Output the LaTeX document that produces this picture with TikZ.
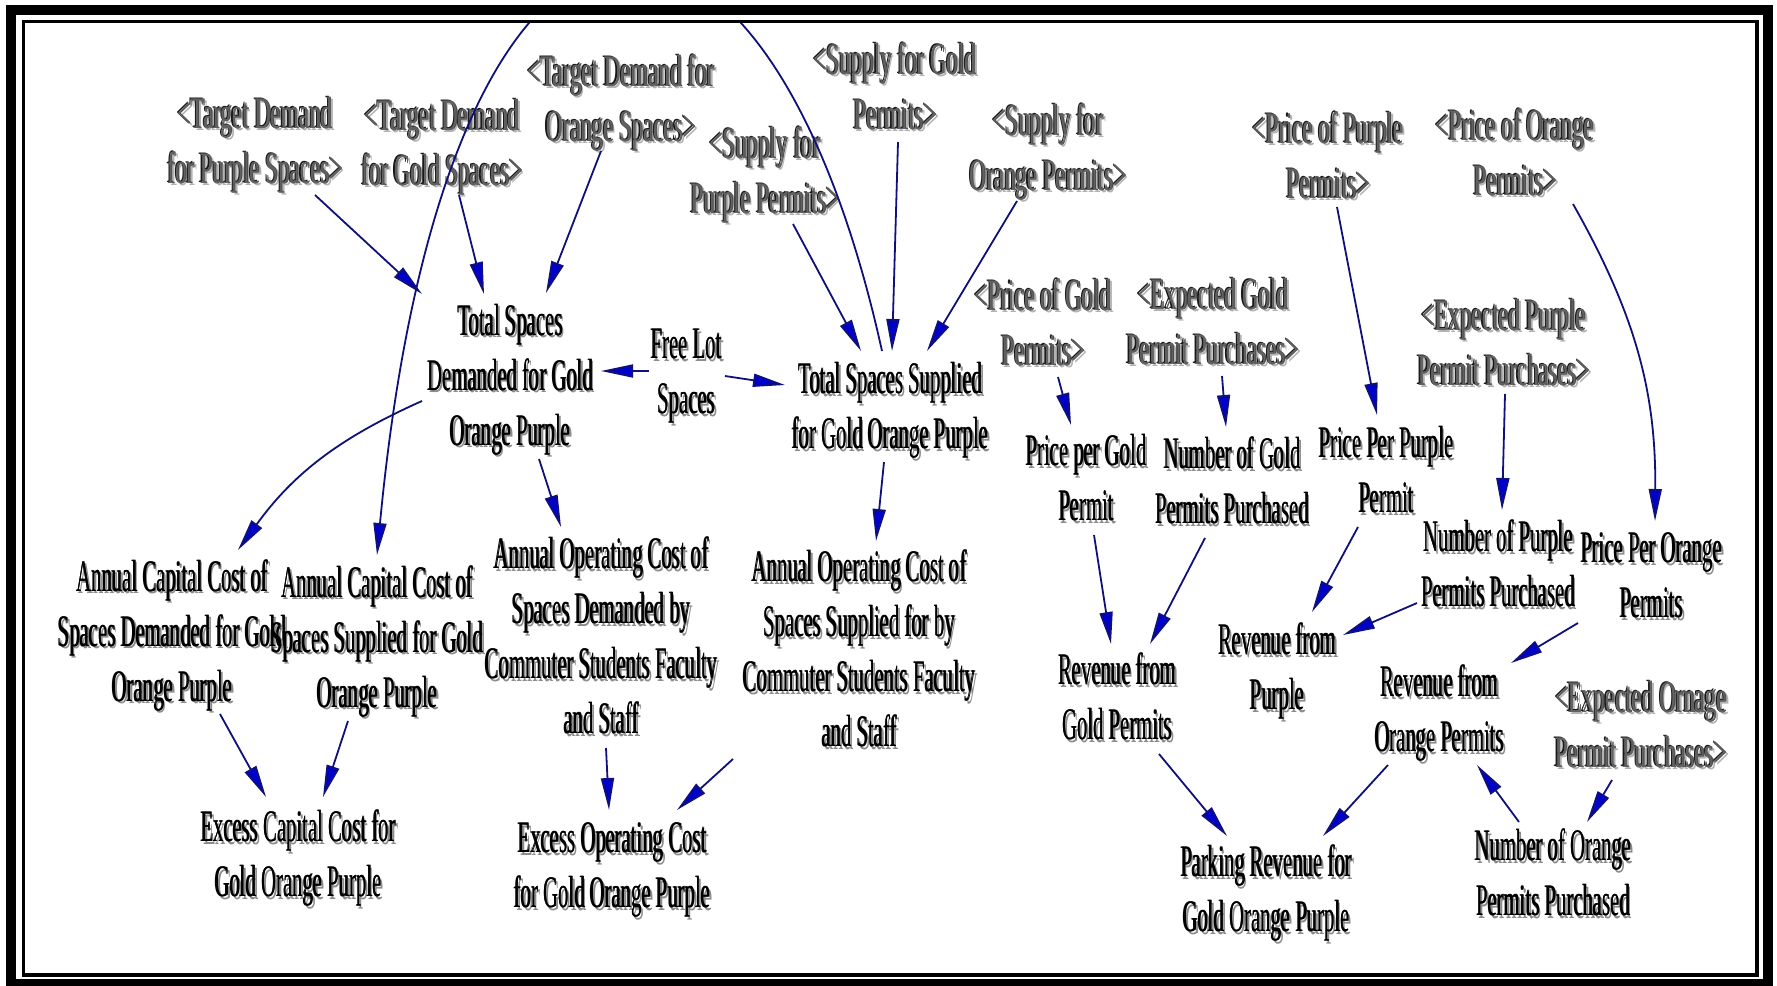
\documentclass[tikz,border=0pt]{standalone}
\usepackage{fontspec}
\setmainfont{Liberation Serif}[FakeStretch=0.46]
\newfontfamily\gfont{Liberation Serif}[FakeStretch=0.51]
\usetikzlibrary{arrows.meta}
\definecolor{navyline}{HTML}{10107A}
\definecolor{tipblue}{HTML}{0000CC}
\tikzset{
  vtxt/.style={inner sep=0pt, font=\fontsize{45}{55}\selectfont},
  arr/.style={draw=navyline, line width=1.8pt, -{Triangle[length=32pt,width=13pt,fill=tipblue]}},
  frameouter/.style={draw=black, line width=10pt},
  frameinner/.style={draw=black, line width=3.5pt},
}
% one text layer, shifted by (#1,#2) pt, in colour #3, taking no width
\newcommand\lay[4]{\makebox[0pt][l]{\hspace*{#1pt}\raisebox{#2pt}{\textcolor{#3}{\begin{tabular}{@{}c@{}}#4\end{tabular}}}}}
% black text with a grey shadow
\newcommand\blk[1]{\raisebox{-3.5pt}[\height][\depth]{\lay{2.5}{-2.5}{black!45}{#1}\lay{0.7}{0}{black}{#1}\textcolor{black}{\begin{tabular}{@{}c@{}}#1\end{tabular}}}}
% grey embossed text of the shadow variables
\newcommand\gry[1]{{\gfont\raisebox{-5.5pt}[\height][\depth]{\lay{2.5}{-2.5}{black!30}{#1}\lay{-1.2}{0.6}{black!90}{#1}\lay{0.8}{-0.4}{black!70}{#1}\textcolor{black!62}{\begin{tabular}{@{}c@{}}#1\end{tabular}}}}}
\begin{document}
\begin{tikzpicture}[x=1pt,y=-1pt]
\useasboundingbox (0,0) rectangle (1777,985);
\fill[white] (0,0) rectangle (1777,985);
\draw[frameouter] (11,10) rectangle (1768,984);
\draw[frameinner] (23.5,21.5) rectangle (1757,975);

% shadow (reference) variables
\node[vtxt] (TDP) at (255,140) {\gry{<Target Demand\\for Purple Spaces>}};
\node[vtxt] (TDG) at (442,142) {\gry{<Target Demand\\for Gold Spaces>}};
\node[vtxt] (TDO) at (621,98) {\gry{<Target Demand for\\Orange Spaces>}};
\node[vtxt] (SG) at (895,86) {\gry{<Supply for Gold\\Permits>}};
\node[vtxt] (SP) at (765,170) {\gry{<Supply for\\Purple Permits>}};
\node[vtxt] (SO) at (1048,147) {\gry{<Supply for\\Orange Permits>}};
\node[vtxt] (PPu) at (1328,155) {\gry{<Price of Purple\\Permits>}};
\node[vtxt] (POr) at (1515,152) {\gry{<Price of Orange\\Permits>}};
\node[vtxt] (PGo) at (1043,322) {\gry{<Price of Gold\\Permits>}};
\node[vtxt] (EG) at (1213,321) {\gry{<Expected Gold\\Permit Purchases>}};
\node[vtxt] (EP) at (1504,342) {\gry{<Expected Purple\\Permit Purchases>}};
\node[vtxt] (EO) at (1641,724) {\gry{<Expected Ornage\\Permit Purchases>}};

% ordinary variables
\node[vtxt] (TSD) at (510,377) {\blk{Total Spaces\\Demanded for Gold\\Orange Purple}};
\node[vtxt] (FL) at (686,373) {\blk{Free Lot\\Spaces}};
\node[vtxt] (TSS) at (890,408) {\blk{Total Spaces Supplied\\for Gold Orange Purple}};
\node[vtxt] (PpG) at (1086,480) {\blk{Price per Gold\\Permit}};
\node[vtxt] (NG) at (1232,483) {\blk{Number of Gold\\Permits Purchased}};
\node[vtxt] (PpP) at (1386,472) {\blk{Price Per Purple\\Permit}};
\node[vtxt] (NP) at (1498,566) {\blk{Number of Purple\\Permits Purchased}};
\node[vtxt] (PpO) at (1651,577) {\blk{Price Per Orange\\Permits}};
\node[vtxt] (RP) at (1277,669) {\blk{Revenue from\\Purple}};
\node[vtxt] (RO) at (1439,711) {\blk{Revenue from\\Orange Permits}};
\node[vtxt] (RG) at (1117,699) {\blk{Revenue from\\Gold Permits}};
\node[vtxt] (PR) at (1266,891) {\blk{Parking Revenue for\\Gold Orange Purple}};
\node[vtxt] (NO) at (1553,875) {\blk{Number of Orange\\Permits Purchased}};
\node[vtxt] (ACD) at (172,633) {\blk{Annual Capital Cost of\\Spaces Demanded for Gold\\Orange Purple}};
\node[vtxt] (ACS) at (377,639) {\blk{Annual Capital Cost of\\Spaces Supplied for Gold\\Orange Purple}};
\node[vtxt] (AOD) at (601,638) {\blk{Annual Operating Cost of\\Spaces Demanded by\\Commuter Students Faculty\\and Staff}};
\node[vtxt] (AOS) at (859,651) {\blk{Annual Operating Cost of\\Spaces Supplied for by\\Commuter Students Faculty\\and Staff}};
\node[vtxt] (ECC) at (298,856) {\blk{Excess Capital Cost for\\Gold Orange Purple}};
\node[vtxt] (EOC) at (612,867) {\blk{Excess Operating Cost\\for Gold Orange Purple}};

% connectors
\draw[arr] ([shift={(60,55)}]TDP.center) -- ([shift={(-88,-83)}]TSD.center);
\draw[arr] ([shift={(17,53)}]TDG.center) -- ([shift={(-26,-83)}]TSD.center);
\draw[arr] ([shift={(-20,53)}]TDO.center) -- ([shift={(36,-84)}]TSD.center);
\begin{scope}
  \clip (25,23) rectangle (1755,973);
  \draw[arr] ([shift={(-8,-57)}]TSS.center) .. controls +(-120,-543) and +(70,-740) .. ([shift={(0,-84)}]ACS.center);
\end{scope}
\draw[arr] ([shift={(-88,24)}]TSD.center) to[bend right=15] ([shift={(66,-83)}]ACD.center);
\draw[arr] ([shift={(29,82)}]TSD.center) -- ([shift={(-40,-111)}]AOD.center);
\draw[arr] ([shift={(-37,-2)}]FL.center) -- ([shift={(91,-6)}]TSD.center);
\draw[arr] ([shift={(39,3)}]FL.center) -- ([shift={(-105,-23)}]TSS.center);
\draw[arr] ([shift={(28,54)}]SP.center) -- ([shift={(-29,-57)}]TSS.center);
\draw[arr] ([shift={(3,56)}]SG.center) -- ([shift={(2,-57)}]TSS.center);
\draw[arr] ([shift={(-31,54)}]SO.center) -- ([shift={(37,-57)}]TSS.center);
\draw[arr] ([shift={(-6,54)}]TSS.center) -- ([shift={(17,-110)}]AOS.center);
\draw[arr] ([shift={(48,81)}]ACD.center) -- ([shift={(-32,-59)}]ECC.center);
\draw[arr] ([shift={(-29,82)}]ACS.center) -- ([shift={(25,-59)}]ECC.center);
\draw[arr] ([shift={(5,110)}]AOD.center) -- ([shift={(-3,-57)}]EOC.center);
\draw[arr] ([shift={(-126,108)}]AOS.center) -- ([shift={(65,-57)}]EOC.center);
\draw[arr] ([shift={(15,55)}]PGo.center) -- ([shift={(-15,-55)}]PpG.center);
\draw[arr] ([shift={(9,55)}]EG.center) -- ([shift={(-6,-56)}]NG.center);
\draw[arr] ([shift={(9,52)}]PPu.center) -- ([shift={(-9,-57)}]PpP.center);
\draw[arr] ([shift={(58,52)}]POr.center) to[bend left=15] ([shift={(4,-56)}]PpO.center);
\draw[arr] ([shift={(1,52)}]EP.center) -- ([shift={(4,-56)}]NP.center);
\draw[arr] ([shift={(8,55)}]PpG.center) -- ([shift={(-6,-55)}]RG.center);
\draw[arr] ([shift={(-27,55)}]NG.center) -- ([shift={(33,-55)}]RG.center);
\draw[arr] ([shift={(-28,55)}]PpP.center) -- ([shift={(35,-57)}]RP.center);
\draw[arr] ([shift={(-81,37)}]NP.center) -- ([shift={(66,-34)}]RP.center);
\draw[arr] ([shift={(-73,46)}]PpO.center) -- ([shift={(72,-48)}]RO.center);
\draw[arr] ([shift={(42,55)}]RG.center) -- ([shift={(-39,-55)}]PR.center);
\draw[arr] ([shift={(-51,54)}]RO.center) -- ([shift={(57,-55)}]PR.center);
\draw[arr] ([shift={(-34,-53)}]NO.center) -- ([shift={(38,54)}]RO.center);
\draw[arr] ([shift={(-29,56)}]EO.center) -- ([shift={(34,-53)}]NO.center);
\end{tikzpicture}
\end{document}
